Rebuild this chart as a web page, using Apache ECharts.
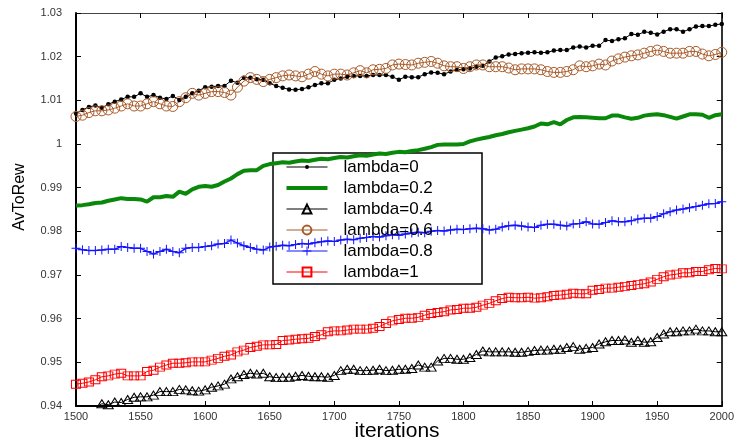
<!DOCTYPE html>
<html>
<head>
<meta charset="utf-8">
<title>AvToRew vs iterations</title>
<script src="https://cdn.jsdelivr.net/npm/echarts@6/dist/echarts.min.js"></script>
<style>
  html, body { margin: 0; padding: 0; background: #fff; }
  #chart { width: 737px; height: 447px; }
</style>
</head>
<body>
<div id="chart"></div>
<script>
// Sample grid: one reading every 5 iterations
const iterations = Array.from({ length: 101 }, (_, i) => 1500 + 5 * i);

const lambda0 = [
  1.0070,1.0078,1.0085,1.0088,1.0083,1.0091,1.0097,1.0102,1.0108,1.0108,
  1.0116,1.0108,1.0112,1.0106,1.0103,1.0110,1.0101,1.0108,1.0116,1.0122,
  1.0130,1.0131,1.0133,1.0133,1.0145,1.0140,1.0152,1.0152,1.0148,1.0147,
  1.0139,1.0133,1.0129,1.0125,1.0124,1.0126,
  1.0130,1.0135,1.0139,1.0139,1.0147,1.0150,1.0154,1.0156,1.0156,1.0156,
  1.0158,1.0158,1.0158,1.0154,1.0147,1.0154,1.0153,1.0153,1.0160,1.0164,
  1.0163,1.0160,1.0166,1.0170,1.0171,1.0173,1.0177,1.0179,1.0189,1.0198,
  1.0201,1.0205,1.0206,1.0208,1.0209,1.0210,1.0209,1.0210,1.0214,1.0215,
  1.0215,1.0221,1.0223,1.0221,1.0225,1.0225,1.0238,1.0236,1.0240,1.0242,
  1.0252,1.0250,1.0257,1.0255,1.0251,1.0257,1.0263,1.0263,1.0257,1.0263,
  1.0269,1.0270,1.0270,1.0273,1.0275
];

const lambda02 = [
  0.9859,0.9860,0.9862,0.9865,0.9866,0.9870,0.9873,0.9876,0.9874,0.9874,
  0.9873,0.9868,0.9878,0.9878,0.9881,0.9879,0.9891,0.9886,0.9896,0.9902,
  0.9904,0.9902,0.9906,0.9914,0.9921,0.9931,0.9939,0.9940,0.9940,0.9950,
  0.9954,0.9956,
  0.9958,0.9957,0.9960,0.9962,0.9961,0.9964,0.9966,0.9965,0.9968,0.9970,
  0.9969,0.9972,0.9974,0.9973,0.9976,0.9978,0.9977,0.9980,0.9982,0.9981,0.9984,
  0.9986,0.9989,0.9993,0.9998,0.9999,0.9999,0.9999,1.0000,1.0006,1.0010,
  1.0013,1.0016,1.0020,1.0023,1.0027,1.0030,1.0033,1.0036,1.0040,1.0047,
  1.0045,1.0050,1.0045,1.0055,1.0061,1.0062,1.0061,1.0060,1.0059,1.0059,
  1.0065,1.0065,1.0061,1.0058,1.0060,1.0065,1.0067,1.0068,1.0066,1.0062,
  1.0058,1.0063,1.0068,1.0068,1.0067,1.0060,1.0066,1.0068
];

const lambda04 = [
  0.9391,0.9394,0.9397,0.9398,0.9405,0.9403,0.9409,0.9408,0.9415,0.9420,
  0.9421,0.9421,0.9425,0.9433,0.9433,0.9433,0.9438,0.9437,0.9435,0.9434,
  0.9437,0.9443,0.9446,0.9450,0.9462,0.9467,0.9472,0.9475,0.9473,0.9475,
  0.9467,0.9465,0.9466,0.9466,0.9468,0.9470,
  0.9468,0.9467,0.9467,0.9466,0.9470,0.9481,0.9484,0.9484,0.9481,0.9481,
  0.9482,0.9484,0.9481,0.9482,0.9484,0.9484,0.9486,0.9494,0.9489,0.9489,
  0.9503,0.9509,0.9509,0.9507,0.9507,0.9511,0.9518,0.9526,0.9524,0.9524,
  0.9524,0.9524,0.9523,0.9523,0.9525,0.9527,0.9528,0.9528,0.9530,0.9530,
  0.9534,0.9536,0.9530,0.9532,0.9534,0.9542,0.9547,0.9550,0.9550,0.9551,
  0.9546,0.9550,0.9546,0.9547,0.9557,0.9565,0.9570,0.9570,0.9572,0.9572,
  0.9576,0.9572,0.9572,0.9570,0.9570
];

const lambda06 = [
  1.0063,1.0066,1.0072,1.0076,1.0076,1.0078,1.0082,1.0087,1.0092,1.0087,
  1.0087,1.0092,1.0097,1.0092,1.0087,1.0086,1.0097,1.0106,1.0116,1.0112,
  1.0116,1.0120,1.0120,1.0118,1.0112,1.0130,1.0144,1.0152,1.0148,1.0143,
  1.0148,1.0152,1.0156,1.0158,1.0156,1.0154,
  1.0160,1.0166,1.0160,1.0156,1.0160,1.0160,1.0158,1.0163,1.0168,1.0163,
  1.0170,1.0171,1.0173,1.0181,1.0183,1.0182,1.0181,1.0185,1.0187,1.0189,
  1.0185,1.0179,1.0177,1.0177,1.0173,1.0177,1.0181,1.0181,1.0177,1.0177,
  1.0177,1.0174,1.0170,1.0172,1.0172,1.0172,1.0170,1.0166,1.0164,1.0164,
  1.0166,1.0170,1.0179,1.0177,1.0179,1.0183,1.0181,1.0190,1.0195,1.0199,
  1.0202,1.0204,1.0208,1.0212,1.0215,1.0212,1.0208,1.0208,1.0208,1.0212,
  1.0212,1.0206,1.0202,1.0205,1.0210
];

const lambda08 = [
  0.9761,0.9758,0.9756,0.9756,0.9757,0.9759,0.9759,0.9765,0.9763,0.9761,
  0.9761,0.9754,0.9748,0.9754,0.9759,0.9754,0.9751,0.9761,0.9763,0.9763,
  0.9765,0.9767,0.9771,0.9772,0.9780,0.9773,0.9767,0.9763,0.9759,0.9757,
  0.9764,
  0.9766,0.9768,0.9767,0.9770,0.9772,0.9771,0.9774,0.9776,0.9778,0.9777,
  0.9780,0.9782,0.9781,0.9784,0.9786,0.9788,0.9787,0.9790,0.9792,0.9791,
  0.9794,0.9796,0.9798,0.9797,0.9800,0.9802,0.9801,0.9803,0.9805,0.9804,
  0.9806,0.9807,
  0.9806,0.9803,0.9805,
  0.9810,0.9813,0.9814,0.9812,0.9810,0.9809,0.9814,0.9816,0.9816,0.9814,
  0.9812,0.9817,0.9818,0.9822,0.9817,0.9816,0.9820,0.9824,0.9822,0.9822,
  0.9824,0.9828,0.9830,0.9830,0.9834,0.9840,0.9845,0.9849,0.9851,0.9854,
  0.9857,0.9860,0.9863,0.9864,0.9868
];

const lambda1 = [
  0.9450,0.9452,0.9455,0.9460,0.9467,0.9469,0.9473,0.9475,0.9469,0.9469,
  0.9469,0.9479,0.9482,0.9489,0.9494,0.9498,0.9498,0.9499,0.9501,0.9501,
  0.9501,0.9505,0.9509,0.9514,0.9517,0.9524,0.9528,0.9534,0.9537,0.9540,
  0.9540,0.9541,0.9550,0.9551,0.9553,0.9554,
  0.9555,0.9559,0.9563,0.9570,0.9572,0.9572,0.9574,0.9576,0.9576,0.9576,
  0.9578,0.9582,0.9589,0.9595,0.9598,0.9601,0.9601,0.9603,0.9608,0.9612,
  0.9614,0.9616,0.9620,0.9621,0.9624,0.9624,0.9626,0.9631,0.9635,0.9641,
  0.9646,0.9649,0.9648,0.9648,0.9649,0.9647,0.9648,0.9650,0.9653,0.9654,
  0.9656,0.9658,0.9657,0.9657,0.9665,0.9667,0.9670,0.9670,0.9672,0.9674,
  0.9676,0.9678,0.9680,0.9684,0.9690,0.9696,0.9700,0.9702,0.9705,0.9705,
  0.9708,0.9708,0.9712,0.9715,0.9714
];

const seriesNames = ['lambda=0', 'lambda=0.2', 'lambda=0.4', 'lambda=0.6', 'lambda=0.8', 'lambda=1'];

const xTicks = { min: 1500, max: 2000, interval: 50 };
const yTicks = { min: 0.94, max: 1.03, interval: 0.01 };

const FONT = 'Liberation Sans, Arial, sans-serif';
const PLUS = 'path://M4,0h1v4h4v1h-4v4h-1v-4h-4v-1h4z';
// Legend icons: thin line with a small dot, and a thick bar
const ICON_DOT = 'path://M0,5h41v1h-41zM20.5,3.5a2,2 0 1 1 0,4a2,2 0 1 1 0,-4z';
const ICON_BAR = 'path://M0,0h41v4h-41z';

function pairs(values) {
  return values.map((v, i) => [iterations[i], v]);
}

const chart = echarts.init(document.getElementById('chart'), null, { renderer: 'canvas' });

const yFmt = v => String(+v.toFixed(2));
const xFmt = v => String(v);

chart.setOption({
  animation: false,
  backgroundColor: '#fff',
  grid: { left: 76, right: 12, top: 13, bottom: 41, containLabel: false },
  xAxis: [
    {
      type: 'value', position: 'bottom', ...xTicks,
      axisLine: { lineStyle: { color: '#000', width: 2 } },
      axisTick: { inside: true, length: 5, lineStyle: { color: '#000', width: 1 } },
      axisLabel: { margin: 5, color: '#333', fontSize: 11, fontFamily: FONT, formatter: xFmt },
      splitLine: { show: false }
    },
    {
      type: 'value', position: 'top', ...xTicks,
      axisLine: { lineStyle: { color: '#444', width: 1 } },
      axisTick: { inside: true, length: 5, lineStyle: { color: '#000', width: 1 } },
      axisLabel: { show: false },
      splitLine: { show: false }
    }
  ],
  yAxis: [
    {
      type: 'value', position: 'left', ...yTicks,
      axisLine: { show: true, lineStyle: { color: '#000', width: 2 } },
      axisTick: { show: true, inside: true, length: 5, lineStyle: { color: '#000', width: 1 } },
      axisLabel: { margin: 14, color: '#333', fontSize: 11, fontFamily: FONT, formatter: yFmt },
      splitLine: { show: false }
    },
    {
      type: 'value', position: 'right', ...yTicks,
      axisLine: { show: true, lineStyle: { color: '#333', width: 2 } },
      axisTick: { show: true, inside: true, length: 5, lineStyle: { color: '#000', width: 1 } },
      axisLabel: { show: false },
      splitLine: { show: false }
    }
  ],
  legend: {
    orient: 'vertical',
    left: 286,
    top: 157,
    padding: 0,
    itemWidth: 41,
    itemHeight: 11,
    itemGap: 1,
    selectedMode: false,
    lineStyle: { width: 1 },
    textStyle: { fontFamily: FONT, fontSize: 17, color: '#000', lineHeight: 20, padding: [0, 0, 0, 11] },
    data: [
      { name: seriesNames[0], icon: ICON_DOT },
      { name: seriesNames[1], icon: ICON_BAR },
      { name: seriesNames[2] },
      { name: seriesNames[3] },
      { name: seriesNames[4] },
      { name: seriesNames[5] }
    ]
  },
  graphic: [
    {
      type: 'rect', z: 3,
      shape: { x: 273, y: 153, width: 209, height: 131 },
      style: { fill: '#fff', stroke: '#000', lineWidth: 1.5 }
    },
    {
      type: 'text', x: 20, y: 197, rotation: Math.PI / 2,
      style: { text: 'AvToRew', font: '16px ' + FONT, fill: '#000',
               align: 'center', verticalAlign: 'middle', textAlign: 'center', textVerticalAlign: 'middle' }
    },
    {
      type: 'text', x: 397, y: 431,
      style: { text: 'iterations', font: '21px ' + FONT, fill: '#000',
               align: 'center', verticalAlign: 'middle', textAlign: 'center', textVerticalAlign: 'middle' }
    }
  ],
  series: [
    {
      name: seriesNames[0], type: 'line', data: pairs(lambda0),
      symbol: 'circle', symbolSize: 4.5,
      itemStyle: { color: '#000' },
      lineStyle: { color: '#000', width: 1 }
    },
    {
      name: seriesNames[1], type: 'line', data: pairs(lambda02),
      symbol: 'none',
      itemStyle: { color: '#0a880a' },
      lineStyle: { color: '#0a880a', width: 4 }
    },
    {
      name: seriesNames[2], type: 'line', data: pairs(lambda04),
      symbol: 'triangle', symbolSize: [10, 8],
      itemStyle: { color: 'rgba(255,255,255,0)', borderColor: '#000', borderWidth: 1 },
      lineStyle: { color: '#000', width: 1 }
    },
    {
      name: seriesNames[3], type: 'line', data: pairs(lambda06),
      symbol: 'circle', symbolSize: 10,
      itemStyle: { color: 'rgba(255,255,255,0)', borderColor: '#a85a28', borderWidth: 1 },
      lineStyle: { color: '#a85a28', width: 1 }
    },
    {
      name: seriesNames[4], type: 'line', data: pairs(lambda08),
      symbol: PLUS, symbolSize: 9,
      itemStyle: { color: '#1414ff' },
      lineStyle: { color: '#1414ff', width: 1.5 }
    },
    {
      name: seriesNames[5], type: 'line', data: pairs(lambda1),
      symbol: 'rect', symbolSize: [9, 8],
      itemStyle: { color: 'rgba(255,255,255,0)', borderColor: '#ff0000', borderWidth: 1 },
      lineStyle: { color: '#ff0000', width: 1 }
    }
  ]
});
</script>
</body>
</html>
